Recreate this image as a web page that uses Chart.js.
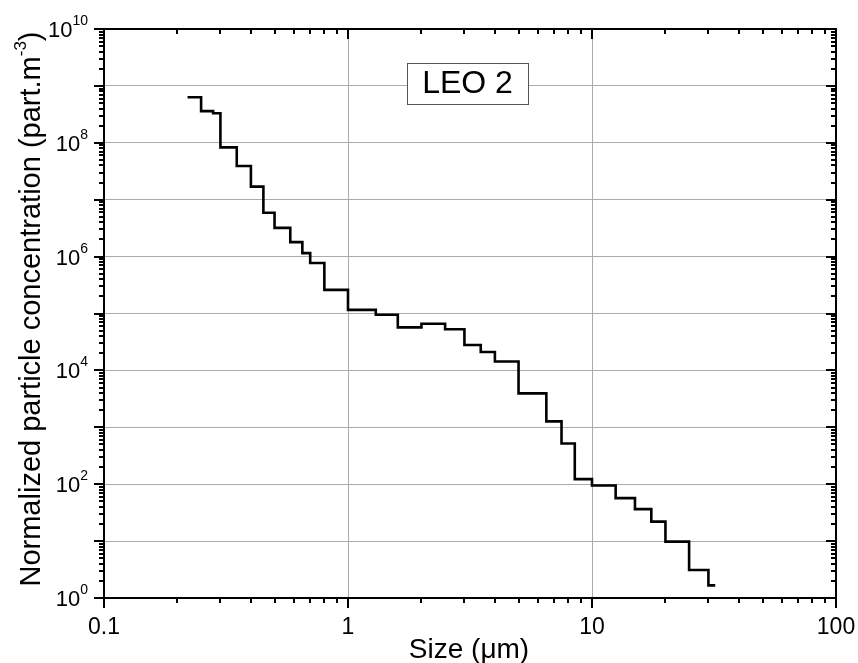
<!DOCTYPE html>
<html><head><meta charset="utf-8">
<script src="https://cdn.jsdelivr.net/npm/chart.js@4/dist/chart.umd.min.js"></script>
<style>html,body{margin:0;padding:0;background:#fff}#wrap{width:858px;height:663px;position:relative}</style>
</head><body><div id="wrap"><canvas id="c" width="858" height="663"></canvas></div>
<script>
// Bin edges (µm) and normalized concentration per bin (part.m^-3)
const binEdges = [0.22, 0.25, 0.28, 0.30, 0.35, 0.40, 0.45, 0.50, 0.58, 0.65, 0.70, 0.80,
  1.0, 1.3, 1.6, 2.0, 2.5, 3.0, 3.5, 4.0, 5.0, 6.5, 7.5, 8.5, 10, 12.5, 15, 17.5, 20, 25, 30, 32];
const concentration = [6.3e8, 3.6e8, 3.3e8, 8.3e7, 3.9e7, 1.7e7, 5.9e6, 3.2e6, 1.8e6, 1.15e6, 7.7e5, 2.6e5,
  1.16e5, 9.5e4, 5.7e4, 6.6e4, 5.3e4, 2.8e4, 2.1e4, 1.43e4, 3.95e3, 1.27e3, 520, 123, 95, 57, 36.5, 22, 9.8, 3.1, 1.67];
const xTickValues = [0.1, 1, 10, 100];
const xTickLabels = ['0.1', '1', '10', '100'];
const yDecadeExponents = [0, 1, 2, 3, 4, 5, 6, 7, 8, 9, 10];
const yLabelExponents = [0, 2, 4, 6, 8, 10];
const xTitle = 'Size (\u03bcm)';
const yTitleMain = 'Normalized particle concentration (part.m';
const yTitleSup = '-3';
const yTitleEnd = ')';
const boxLabel = 'LEO 2';

const points = binEdges.map((x, i) => ({x: x, y: concentration[Math.min(i, concentration.length - 1)]}));
const FONT = '"Liberation Sans", Arial, sans-serif';

const decorPlugin = {
  id: 'decor',
  afterDraw(chart) {
    const ctx = chart.ctx;
    const xs = chart.scales.x, ys = chart.scales.y;
    const a = chart.chartArea;
    ctx.save();
    // ticks
    ctx.strokeStyle = '#000';
    ctx.lineWidth = 2;
    ctx.beginPath();
    for (let e = -1; e <= 2; e++) {
      for (let m = 1; m <= 9; m++) {
        const v = m * Math.pow(10, e);
        if (v > 100.0001) break;
        const px = Math.round(xs.getPixelForValue(v));
        const len = m === 1 ? 10 : 5;
        ctx.moveTo(px, a.bottom); ctx.lineTo(px, a.bottom + len);
        ctx.moveTo(px, a.top); ctx.lineTo(px, a.top + len);
      }
    }
    for (let e = 0; e <= 10; e++) {
      for (let m = 1; m <= 9; m++) {
        const v = m * Math.pow(10, e);
        if (v > 1e10 * 1.0001) break;
        const py = Math.round(ys.getPixelForValue(v));
        const len = m === 1 ? 10 : 5;
        ctx.moveTo(a.left - len, py); ctx.lineTo(a.left, py);
        ctx.moveTo(a.right, py); ctx.lineTo(a.right - len, py);
      }
    }
    ctx.stroke();
    // frame
    ctx.lineWidth = 2;
    ctx.strokeRect(a.left, a.top, a.right - a.left, a.bottom - a.top);

    // x labels
    ctx.fillStyle = '#000';
    ctx.font = '23px ' + FONT;
    ctx.textAlign = 'center';
    ctx.textBaseline = 'alphabetic';
    xTickValues.forEach((v, i) => {
      ctx.fillText(xTickLabels[i], xs.getPixelForValue(v), a.bottom + 36);
    });
    // y labels 10^n
    yLabelExponents.forEach(e => {
      const py = ys.getPixelForValue(Math.pow(10, e));
      ctx.font = '14px ' + FONT;
      const sw = ctx.measureText(String(e)).width;
      ctx.font = '22px ' + FONT;
      const bw = ctx.measureText('10').width;
      const right = a.left - 16;
      ctx.textAlign = 'left';
      ctx.fillText('10', right - sw - bw, py + 8);
      ctx.font = '14px ' + FONT;
      ctx.fillText(String(e), right - sw, py - 4);
    });
    // x title
    ctx.font = '28px ' + FONT;
    ctx.textAlign = 'center';
    ctx.fillText(xTitle, (a.left + a.right) / 2 - 1, a.bottom + 60);
    // y title (rotated)
    ctx.save();
    ctx.translate(40, 309);
    ctx.rotate(-Math.PI / 2);
    ctx.font = '29px ' + FONT;
    const w1 = ctx.measureText(yTitleMain).width;
    const w3 = ctx.measureText(yTitleEnd).width;
    ctx.font = '17px ' + FONT;
    const w2 = ctx.measureText(yTitleSup).width;
    const total = w1 + w2 + w3;
    let x0 = -total / 2;
    ctx.textAlign = 'left';
    ctx.font = '29px ' + FONT;
    ctx.fillText(yTitleMain, x0, 0);
    ctx.font = '17px ' + FONT;
    ctx.fillText(yTitleSup, x0 + w1, -14);
    ctx.font = '29px ' + FONT;
    ctx.fillText(yTitleEnd, x0 + w1 + w2, 0);
    ctx.restore();

    // label box
    const bx = a.left + 0.414 * (a.right - a.left);
    const by = a.top + 0.06 * (a.bottom - a.top);
    const bwid = 121, bh = 41;
    ctx.fillStyle = '#fff';
    ctx.fillRect(bx, by, bwid, bh);
    ctx.strokeStyle = '#555';
    ctx.lineWidth = 1;
    ctx.strokeRect(Math.round(bx) + 0.5, Math.round(by) + 0.5, bwid, bh);
    ctx.fillStyle = '#000';
    ctx.font = '32px ' + FONT;
    ctx.textAlign = 'center';
    ctx.textBaseline = 'middle';
    ctx.fillText(boxLabel, bx + bwid / 2, by + bh / 2 + 1);
    ctx.restore();
  }
};

new Chart(document.getElementById('c'), {
  type: 'line',
  data: {
    datasets: [{
      label: boxLabel,
      data: points,
      stepped: 'before',
      borderColor: '#000',
      borderWidth: 2.6,
      pointRadius: 0,
      fill: false,
      tension: 0
    }]
  },
  options: {
    responsive: false,
    animation: false,
    devicePixelRatio: 1,
    layout: {padding: {left: 0, right: 22, top: 29, bottom: 0}},
    plugins: {legend: {display: false}, tooltip: {enabled: false}, title: {display: false}},
    scales: {
      x: {
        type: 'logarithmic', min: 0.1, max: 100, position: 'bottom',
        ticks: {display: false},
        grid: {color: '#ababab', lineWidth: 1, drawTicks: false},
        border: {display: false},
        afterBuildTicks: s => { s.ticks = xTickValues.map(v => ({value: v})); },
        afterFit: s => { s.height = 65; }
      },
      y: {
        type: 'logarithmic', min: 1, max: 1e10,
        ticks: {display: false},
        grid: {color: '#ababab', lineWidth: 1, drawTicks: false},
        border: {display: false},
        afterBuildTicks: s => { s.ticks = yDecadeExponents.map(e => ({value: Math.pow(10, e)})); },
        afterFit: s => { s.width = 104; }
      }
    }
  },
  plugins: [decorPlugin]
});
</script>
</body></html>
